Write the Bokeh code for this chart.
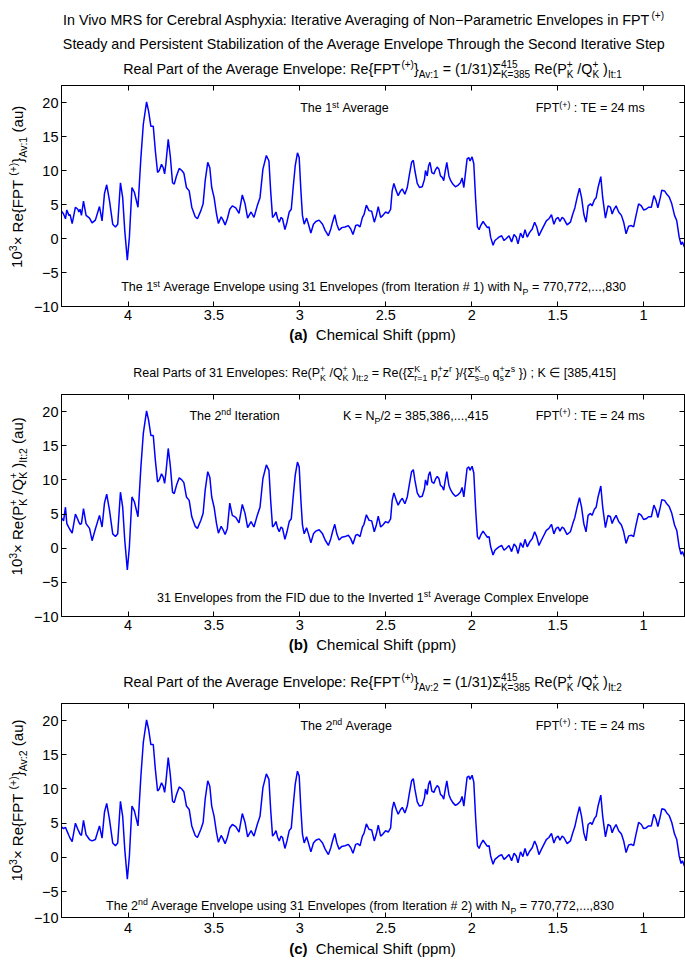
import math
from bokeh.plotting import figure
from bokeh.models import Label, Range1d, FixedTicker, LinearAxis, ColumnDataSource
from bokeh.layouts import column, row
from bokeh.embed import file_html
from bokeh.resources import INLINE

# ---------------- data ----------------
ppm = [4.389, 4.375, 4.364, 4.356, 4.344, 4.337, 4.325, 4.306, 4.292, 4.286,
       4.279, 4.271, 4.259, 4.244, 4.224, 4.209, 4.190, 4.166, 4.151, 4.137,
       4.124, 4.108, 4.089, 4.073, 4.060, 4.044, 4.031, 4.019, 4.004, 3.992,
       3.977, 3.963, 3.942, 3.925, 3.911, 3.892, 3.880, 3.867, 3.853, 3.841,
       3.828, 3.818, 3.805, 3.795, 3.787, 3.780, 3.766, 3.754, 3.741, 3.731,
       3.718, 3.702, 3.687, 3.675, 3.660, 3.644, 3.629, 3.609, 3.596, 3.576,
       3.563, 3.551, 3.536, 3.524, 3.513, 3.499, 3.485, 3.474, 3.458, 3.447,
       3.435, 3.422, 3.408, 3.393, 3.373, 3.354, 3.335, 3.319, 3.304, 3.284,
       3.267, 3.248, 3.232, 3.215, 3.195, 3.180, 3.170, 3.159, 3.149, 3.139,
       3.129, 3.120, 3.110, 3.101, 3.087, 3.075, 3.062, 3.050, 3.039, 3.027,
       3.014, 3.004, 2.994, 2.985, 2.975, 2.961, 2.950, 2.936, 2.921, 2.907,
       2.888, 2.868, 2.853, 2.834, 2.820, 2.810, 2.797, 2.785, 2.772, 2.756,
       2.737, 2.718, 2.704, 2.691, 2.675, 2.664, 2.650, 2.636, 2.627, 2.613,
       2.598, 2.582, 2.567, 2.555, 2.544, 2.530, 2.517, 2.501, 2.486, 2.472,
       2.463, 2.453, 2.439, 2.428, 2.414, 2.404, 2.389, 2.375, 2.362, 2.350,
       2.340, 2.331, 2.317, 2.304, 2.288, 2.275, 2.269, 2.259, 2.251, 2.243,
       2.232, 2.220, 2.211, 2.201, 2.191, 2.182, 2.172, 2.163, 2.157, 2.145,
       2.133, 2.124, 2.110, 2.095, 2.081, 2.066, 2.056, 2.046, 2.037, 2.027,
       2.017, 2.010, 1.998, 1.988, 1.977, 1.967, 1.957, 1.948, 1.934, 1.923,
       1.909, 1.899, 1.890, 1.876, 1.865, 1.851, 1.842, 1.826, 1.812, 1.799,
       1.783, 1.768, 1.754, 1.741, 1.731, 1.716, 1.702, 1.690, 1.677, 1.663,
       1.648, 1.634, 1.622, 1.609, 1.594, 1.580, 1.566, 1.551, 1.536, 1.522,
       1.509, 1.497, 1.487, 1.474, 1.464, 1.445, 1.426, 1.412, 1.400, 1.387,
       1.373, 1.361, 1.348, 1.335, 1.323, 1.309, 1.300, 1.286, 1.276, 1.265,
       1.249, 1.238, 1.222, 1.207, 1.193, 1.183, 1.174, 1.160, 1.145, 1.129,
       1.116, 1.102, 1.087, 1.071, 1.058, 1.044, 1.029, 1.013, 1.000, 0.986,
       0.971, 0.955, 0.940, 0.928, 0.917, 0.903, 0.894, 0.878, 0.865, 0.851,
       0.836, 0.820, 0.807, 0.793, 0.782, 0.774, 0.762]

# (a) Re{FPT(+)}_Av:1
re_av1 = [4.1, 3.6, 2.9, 4.2, 3.4, 3.5, 2.2, 4.6, 4.3, 3.9,
          4.3, 3.4, 5.5, 3.4, 3.0, 2.3, 2.7, 4.7, 2.6, 6.6,
          7.9, 5.6, 2.1, 1.7, 2.1, 8.2, 6.0, 1.2, -3.2, 0.2,
          7.5, 6.8, 4.6, 11.9, 16.8, 20.1, 18.7, 16.5, 16.5, 12.9,
          9.7, 10.0, 10.9, 10.4, 9.5, 10.9, 14.6, 12.1, 8.2, 8.0,
          9.2, 10.3, 10.0, 9.6, 7.5, 7.0, 4.6, 3.2, 2.9, 4.1,
          5.1, 8.5, 11.2, 10.4, 7.5, 6.0, 3.6, 2.2, 3.2, 2.7,
          2.0, 2.9, 4.3, 4.8, 4.5, 3.7, 6.4, 5.1, 3.0, 3.9,
          3.1, 4.8, 6.0, 10.2, 12.2, 11.4, 7.0, 3.1, 3.4, 3.9,
          2.9, 2.4, 3.1, 2.9, 1.3, 2.4, 3.9, 4.3, 7.5, 10.7,
          12.6, 11.9, 7.0, 3.4, 2.1, 3.0, 2.1, 0.8, 2.1, 2.5,
          2.7, 2.1, 1.2, 0.4, 1.4, 2.4, 3.5, 2.1, 1.2, 1.6,
          1.7, 1.9, 1.4, 0.6, 1.9, 2.0, 1.7, 3.1, 3.5, 4.9,
          4.1, 4.0, 2.4, 3.4, 4.7, 3.1, 3.4, 3.9, 3.7, 4.3,
          7.0, 8.1, 7.0, 6.3, 7.0, 7.3, 6.5, 7.5, 9.5, 11.2,
          11.5, 10.0, 8.1, 7.5, 7.6, 8.7, 10.0, 9.2, 10.7, 11.2,
          9.7, 9.5, 10.1, 10.5, 10.2, 9.2, 9.0, 8.5, 9.5, 11.2,
          9.2, 8.6, 8.0, 7.6, 7.8, 8.2, 8.9, 7.5, 9.5, 11.7,
          11.9, 11.4, 12.0, 11.0, 5.6, 1.7, 1.3, 1.9, 2.5, 2.1,
          1.6, 1.7, 0.2, -1.0, -0.3, 0.0, 0.2, 0.4, -0.3, 0.0,
          0.4, -0.5, 0.6, 0.2, -0.8, 0.8, 0.1, 1.3, 0.2, 0.9,
          1.4, 2.4, 1.7, 0.4, 1.2, 1.9, 2.6, 2.9, 3.5, 2.1,
          2.9, 3.1, 2.5, 3.1, 2.9, 2.0, 2.4, 3.6, 4.5, 6.0,
          7.4, 6.0, 3.6, 2.4, 4.8, 5.1, 4.8, 5.7, 6.0, 7.5,
          9.1, 6.0, 3.0, 4.8, 4.6, 3.6, 4.2, 4.8, 3.9, 3.4,
          2.4, 0.7, 1.8, 1.9, 1.7, 3.4, 5.1, 4.8, 4.2, 4.3,
          4.6, 4.6, 6.3, 5.6, 4.5, 6.0, 7.1, 7.0, 6.5, 6.1,
          5.1, 3.4, 2.6, 0.2, -0.9, -0.5, -1.3]

# (b) Re(P+/Q+)_It:2
re_it2 = [4.5, 4.0, 6.0, 3.6, 3.0, 2.7, 2.2, 5.0, 4.2, 3.8,
          3.5, 3.6, 5.8, 3.6, 2.9, 1.1, 2.8, 4.8, 3.1, 6.6,
          7.9, 5.6, 2.1, 1.7, 2.1, 8.2, 6.0, 1.2, -3.2, 0.2,
          7.5, 6.8, 4.6, 11.9, 16.8, 20.1, 18.7, 16.5, 16.5, 12.9,
          9.7, 10.0, 10.9, 10.4, 9.5, 10.9, 14.6, 12.1, 8.2, 8.0,
          9.2, 10.3, 10.0, 9.6, 7.5, 7.0, 4.6, 3.2, 2.9, 4.1,
          5.1, 8.5, 11.2, 10.4, 7.5, 6.0, 3.6, 2.2, 3.2, 2.7,
          2.0, 2.9, 6.6, 4.8, 4.5, 3.7, 6.4, 5.1, 3.0, 3.9,
          3.1, 4.8, 6.0, 10.2, 12.2, 11.4, 7.0, 3.1, 3.4, 3.9,
          2.9, 2.4, 3.1, 2.9, 1.3, 2.4, 3.9, 4.3, 7.5, 10.7,
          12.6, 11.9, 7.0, 3.4, 2.1, 3.0, 2.1, 0.8, 2.1, 2.5,
          2.7, 2.1, 1.2, 0.4, 1.4, 2.4, 3.5, 2.1, 1.2, 1.6,
          1.7, 1.9, 1.4, 0.6, 1.9, 2.0, 1.7, 3.1, 3.5, 4.9,
          4.1, 4.0, 2.4, 3.4, 4.7, 3.1, 3.4, 3.9, 3.7, 4.3,
          7.0, 8.1, 7.0, 6.3, 7.0, 7.3, 6.5, 7.5, 9.5, 11.2,
          11.5, 10.0, 8.1, 7.5, 7.6, 8.7, 10.0, 9.2, 10.7, 11.2,
          9.7, 9.5, 10.1, 10.5, 10.2, 9.2, 9.0, 8.5, 9.5, 11.2,
          9.2, 8.6, 8.0, 7.6, 7.8, 8.2, 8.9, 7.5, 9.5, 11.7,
          11.9, 11.4, 12.0, 11.0, 5.6, 1.7, 1.3, 1.9, 2.5, 2.1,
          1.6, 1.7, 0.2, -1.0, -0.3, 0.0, 0.2, 0.4, -0.3, 0.0,
          0.4, -0.5, 0.6, 0.2, -0.8, 0.8, 0.1, 1.3, 0.2, 0.9,
          1.4, 2.4, 1.7, 0.4, 1.2, 1.9, 2.6, 2.9, 3.5, 2.1,
          2.9, 3.1, 2.5, 3.1, 2.9, 2.0, 2.4, 3.6, 4.5, 6.0,
          7.4, 6.0, 3.6, 2.4, 4.8, 5.1, 4.8, 5.7, 6.0, 7.5,
          9.1, 6.0, 3.0, 4.8, 4.6, 3.6, 4.2, 4.8, 3.9, 3.4,
          2.4, 0.7, 1.8, 1.9, 1.7, 3.4, 5.1, 4.8, 4.2, 4.3,
          4.6, 4.6, 6.3, 5.6, 4.5, 6.0, 7.1, 7.0, 6.5, 6.1,
          5.1, 3.4, 2.6, 0.2, -0.9, -0.5, -1.3]

# (c) Re{FPT(+)}_Av:2
re_av2 = [4.5, 4.2, 4.4, 3.9, 3.2, 2.8, 2.3, 5.0, 4.1, 3.8,
          3.4, 3.2, 5.4, 3.3, 2.6, 2.4, 2.6, 4.6, 2.8, 6.6,
          7.9, 5.6, 2.1, 1.7, 2.1, 8.2, 6.0, 1.2, -3.2, 0.2,
          7.5, 6.8, 4.6, 11.9, 16.8, 20.1, 18.7, 16.5, 16.5, 12.9,
          9.7, 10.0, 10.9, 10.4, 9.5, 10.9, 14.6, 12.1, 8.2, 8.0,
          9.2, 10.3, 10.0, 9.6, 7.5, 7.0, 4.6, 3.2, 2.9, 4.1,
          5.1, 8.5, 11.2, 10.4, 7.5, 6.0, 3.6, 2.2, 3.2, 2.7,
          2.0, 2.9, 4.3, 4.8, 4.5, 3.7, 6.4, 5.1, 3.0, 3.9,
          3.1, 4.8, 6.0, 10.2, 12.2, 11.4, 7.0, 3.1, 3.4, 3.9,
          2.9, 2.4, 3.1, 2.9, 1.3, 2.4, 3.9, 4.3, 7.5, 10.7,
          12.6, 11.9, 7.0, 3.4, 2.1, 3.0, 2.1, 0.8, 2.1, 2.5,
          2.7, 2.1, 1.2, 0.4, 1.4, 2.4, 3.5, 2.1, 1.2, 1.6,
          1.7, 1.9, 1.4, 0.6, 1.9, 2.0, 1.7, 3.1, 3.5, 4.9,
          4.1, 4.0, 2.4, 3.4, 4.7, 3.1, 3.4, 3.9, 3.7, 4.3,
          7.0, 8.1, 7.0, 6.3, 7.0, 7.3, 6.5, 7.5, 9.5, 11.2,
          11.5, 10.0, 8.1, 7.5, 7.6, 8.7, 10.0, 9.2, 10.7, 11.2,
          9.7, 9.5, 10.1, 10.5, 10.2, 9.2, 9.0, 8.5, 9.5, 11.2,
          9.2, 8.6, 8.0, 7.6, 7.8, 8.2, 8.9, 7.5, 9.5, 11.7,
          11.9, 11.4, 12.0, 11.0, 5.6, 1.7, 1.3, 1.9, 2.5, 2.1,
          1.6, 1.7, 0.2, -1.0, -0.3, 0.0, 0.2, 0.4, -0.3, 0.0,
          0.4, -0.5, 0.6, 0.2, -0.8, 0.8, 0.1, 1.3, 0.2, 0.9,
          1.4, 2.4, 1.7, 0.4, 1.2, 1.9, 2.6, 2.9, 3.5, 2.1,
          2.9, 3.1, 2.5, 3.1, 2.9, 2.0, 2.4, 3.6, 4.5, 6.0,
          7.4, 6.0, 3.6, 2.4, 4.8, 5.1, 4.8, 5.7, 6.0, 7.5,
          9.1, 6.0, 3.0, 4.8, 4.6, 3.6, 4.2, 4.8, 3.9, 3.4,
          2.4, 0.7, 1.8, 1.9, 1.7, 3.4, 5.1, 4.8, 4.2, 4.3,
          4.6, 4.6, 6.3, 5.6, 4.5, 6.0, 7.1, 7.0, 6.5, 6.1,
          5.1, 3.4, 2.6, 0.2, -0.9, -0.5, -1.3]

x_ticks = [4, 3.5, 3, 2.5, 2, 1.5, 1]
x_tick_labels = ["4", "3.5", "3", "2.5", "2", "1.5", "1"]
y_ticks = [-10, -5, 0, 5, 10, 15, 20]
y_tick_labels = ["\u221210", "\u22125", "0", "5", "10", "15", "20"]
y_ticks_c = [-8.8, -5, 0, 5, 10, 15, 20]

X_LEFT, X_RIGHT, Y_TOP = 4.387, 0.762, 22.5

# ---------------- text helpers ----------------
FONT = "Liberation Sans"
SS = 0.7      # sub/superscript size factor
SUP = 0.40    # superscript raise (em)
SUB = 0.30    # subscript drop (em)
MID = 0.3465  # em-box middle above the alphabetic baseline

_w = {' ': 278, '!': 278, '"': 355, '#': 556, '%': 889, '&': 667, "'": 191, '(': 333, ')': 333,
      '*': 389, '+': 584, ',': 278, '-': 333, '.': 278, '/': 278, ':': 278, ';': 278, '<': 584,
      '=': 584, '>': 584, '?': 556, '[': 278, ']': 278, '{': 334, '|': 260, '}': 334,
      '\u2212': 584, '\u00d7': 584, '\u03a3': 600, '\u2208': 713}
for ch in "0123456789":
    _w[ch] = 556
for ch, v in zip("ABCDEFGHIJKLMNOPQRSTUVWXYZ",
                 [667, 667, 722, 722, 667, 611, 778, 722, 278, 500, 667, 556, 833, 722, 778, 667,
                  778, 722, 667, 611, 722, 667, 944, 667, 667, 611]):
    _w[ch] = v
for ch, v in zip("abcdefghijklmnopqrstuvwxyz",
                 [556, 556, 500, 556, 556, 278, 556, 556, 222, 222, 500, 222, 833, 556, 556, 556,
                  556, 333, 500, 278, 556, 500, 722, 500, 500, 500]):
    _w[ch] = v
_wb = {'(': 333, ')': 333, 'a': 556, 'b': 611, 'c': 556}


def tw(s, size, bold=False):
    tab = _wb if bold else _w
    return sum(tab.get(c, _w.get(c, 556)) for c in s) * size / 1000.0


def rich(p, x, y, segs, size, anchor="center", angle=0.0, ox=0.0, oy=0.0):
    """Draw a run of text pieces (normal / sub / sup / stacked) whose common
    alphabetic baseline passes through (x, y) + offset."""
    ca, sa = math.cos(angle), math.sin(angle)

    def seg_w(seg):
        t, k = seg
        if k == "n":
            return tw(t, size)
        if k == "b":
            return tw(t, size, True)
        if k in ("sup", "sub"):
            return tw(t, size * SS)
        return max(tw(t[0], size * SS), tw(t[1], size * SS))

    total = sum(seg_w(s) for s in segs)
    pos = -total / 2 if anchor == "center" else 0.0
    for seg in segs:
        t, k = seg
        if k in ("n", "b"):
            parts = [(t, size, 0.0, k == "b")]
        elif k == "sup":
            parts = [(t, size * SS, SUP * size, False)]
        elif k == "sub":
            parts = [(t, size * SS, -SUB * size, False)]
        else:
            parts = [(t[0], size * SS, SUP * size, False), (t[1], size * SS, -SUB * size, False)]
        for txt, fs, shift, b in parts:
            lead = len(txt) - len(txt.lstrip(' '))
            core = txt.strip(' ')
            if not core:
                continue
            adv = pos + tw(' ' * lead, fs)
            nrm = shift + MID * fs
            dx = adv * ca - nrm * sa
            dy = adv * sa + nrm * ca
            p.add_layout(Label(x=x, y=y, x_offset=ox + dx, y_offset=oy + dy, text=core,
                               angle=angle, text_font=FONT, text_font_size=f"{fs:.1f}px",
                               text_font_style="bold" if b else "normal",
                               text_align="left", text_baseline="middle",
                               text_color="black"))
        pos += seg_w(seg)


# ---------------- layout pieces ----------------
W = 685          # page width
YL_W = 30        # strip for the rotated y-axis label
PW = W - YL_W    # panel figure width
FRAME_L = 60 - YL_W
FRAME_CX = 60 + (684 - 60) / 2   # page x of the frame centre


def strip(w, h):
    s = figure(width=w, height=h, x_range=Range1d(0, w), y_range=Range1d(0, h),
               x_axis_location=None, y_axis_location=None, toolbar_location=None,
               output_backend="svg", min_border=0)
    s.outline_line_color = None
    s.grid.visible = False
    s.background_fill_color = "white"
    s.border_fill_color = "white"
    return s


def make_panel(frame_h, bottom, ybot, yt, ycol, xstand):
    p = figure(width=PW, height=frame_h + bottom, x_range=Range1d(X_LEFT, X_RIGHT),
               y_range=Range1d(ybot, Y_TOP), output_backend="svg", toolbar_location=None,
               min_border_left=FRAME_L, min_border_right=1, min_border_top=0,
               min_border_bottom=bottom)
    p.background_fill_color = "white"
    p.border_fill_color = "white"
    p.outline_line_color = "black"
    p.outline_line_width = 1
    p.xgrid.visible = False
    p.ygrid.visible = False
    xa, ya = p.xaxis[0], p.yaxis[0]
    xa.ticker = FixedTicker(ticks=x_ticks)
    xa.major_label_overrides = dict(zip(x_ticks, x_tick_labels))
    xa.major_label_standoff = xstand
    ya.ticker = FixedTicker(ticks=yt)
    ya.major_label_overrides = dict(zip(yt, y_tick_labels))
    ya.major_label_standoff = 3
    for ax in (xa, ya):
        ax.major_tick_in = 5
        ax.major_tick_out = 0
        ax.minor_tick_line_color = None
        ax.axis_line_color = "black"
        ax.major_tick_line_color = "black"
        ax.major_label_text_font = FONT
        ax.major_label_text_font_size = "14.5px"
        ax.major_label_text_color = "black"
    for loc, tk in (("above", x_ticks), ("right", yt)):
        ax = LinearAxis(ticker=FixedTicker(ticks=tk),
                        major_label_overrides={t: "" for t in tk},
                        major_label_text_font_size="0px", major_label_standoff=0,
                        major_tick_in=5, major_tick_out=0, minor_tick_line_color=None,
                        axis_line_color="black", major_tick_line_color="black")
        p.add_layout(ax, loc)
    src = ColumnDataSource(dict(ppm=ppm, val=ycol))
    p.line(x="ppm", y="val", source=src, line_color="#0000FF", line_width=1.5)
    return p


N, SUPK, SUBK = "n", "sup", "sub"
FPT_TE = [("FPT", N), ("(+)", SUPK), (" : TE = 24 ms", N)]
TS = 14.3   # title size
TSB = 12.5  # title size of panel (b)
IS = 12.5   # inner text size
LS = 15.0   # axis label size

# ================= panel (a) =================
topA = strip(W, 85)
rich(topA, 363, 61, [("In Vivo MRS for Cerebral Asphyxia: Iterative Averaging of Non\u2212Parametric Envelopes in FPT", N),
                     ("(+)", SUPK)], TS)
rich(topA, 364, 37, [("Steady and Persistent Stabilization of the Average Envelope Through the Second Iterative Step", N)], TS)
rich(topA, FRAME_CX, 12, [("Real Part of the Average Envelope: Re{FPT", N), ("(+)", SUPK), ("}", N), ("Av:1", SUBK),
                          (" = (1/31)\u03a3", N), (("415", "K=385"), "ss"), (" Re(P", N), (("+", "K"), "ss"),
                          (" /Q", N), (("+", "K"), "ss"), (" )", N), ("It:1", SUBK)], TS)

pA = make_panel(221, 20, -10, y_ticks, re_av1, 3)
rich(pA, 2.74, 18.5, [("The 1", N), ("st", SUPK), (" Average", N)], IS)
rich(pA, 1.31, 18.5, FPT_TE, IS)
rich(pA, 2.571, -7.8, [("The 1", N), ("st", SUPK),
                       (" Average Envelope using 31 Envelopes (from Iteration # 1) with N", N), ("P", SUBK),
                       (" = 770,772,...,830", N)], IS)

ylA = strip(YL_W, 241)
rich(ylA, 22, 241 - 110.5, [("10", N), ("3", SUPK), ("\u00d7 Re{FPT ", N), ("(+)", SUPK), ("}", N),
                            ("Av:1", SUBK), (" (au)", N)], LS, angle=math.pi / 2)

botA = strip(W, 24)
rich(botA, FRAME_CX, 11, [("(a)", "b"), ("  Chemical Shift (ppm)", N)], LS)

# ================= panel (b) =================
topB = strip(W, 44)
rich(topB, 373, 17, [("Real Parts of 31 Envelopes: Re(P", N), (("+", "K"), "ss"), (" /Q", N), (("+", "K"), "ss"),
                     (" )", N), ("It:2", SUBK), (" = Re({\u03a3", N), (("K", "r=1"), "ss"), (" p", N),
                     (("+", "r"), "ss"), ("z", N), ("r", SUPK), (" }/{\u03a3", N), (("K", "s=0"), "ss"),
                     (" q", N), (("+", "s"), "ss"), ("z", N), ("s", SUPK), (" }) ; K \u2208 [385,415]", N)], TSB)

pB = make_panel(222, 20, -10, y_ticks, re_it2, 3)
rich(pB, 3.38, 18.7, [("The 2", N), ("nd", SUPK), (" Iteration", N)], IS)
rich(pB, 2.326, 18.7, [("K = N", N), ("P", SUBK), ("/2 = 385,386,...,415", N)], IS)
rich(pB, 1.31, 18.7, FPT_TE, IS)
rich(pB, 2.5745, -7.9, [("31 Envelopes from the FID due to the Inverted 1", N), ("st", SUPK),
                        (" Average Complex Envelope", N)], IS)

ylB = strip(YL_W, 242)
rich(ylB, 22, 242 - 111, [("10", N), ("3", SUPK), ("\u00d7 Re(P", N), (("+", "K"), "ss"), (" /Q", N),
                          (("+", "K"), "ss"), (" )", N), ("It:2", SUBK), (" (au)", N)], LS, angle=math.pi / 2)

botB = strip(W, 24)
rich(botB, FRAME_CX, 11, [("(b)", "b"), ("  Chemical Shift (ppm)", N)], LS)

# ================= panel (c) =================
topC = strip(W, 43)
rich(topC, FRAME_CX, 17, [("Real Part of the Average Envelope: Re{FPT", N), ("(+)", SUPK), ("}", N), ("Av:2", SUBK),
                          (" = (1/31)\u03a3", N), (("415", "K=385"), "ss"), (" Re(P", N), (("+", "K"), "ss"),
                          (" /Q", N), (("+", "K"), "ss"), (" )", N), ("It:2", SUBK)], TS)

pC = make_panel(214, 22, -8.8, y_ticks_c, re_av2, 5)
rich(pC, 2.73, 18.6, [("The 2", N), ("nd", SUPK), (" Average", N)], IS)
rich(pC, 1.31, 18.6, FPT_TE, IS)
rich(pC, 2.65, -7.7, [("The 2", N), ("nd", SUPK),
                      (" Average Envelope using 31 Envelopes (from Iteration # 2) with N", N), ("P", SUBK),
                      (" = 770,772,...,830", N)], IS)

ylC = strip(YL_W, 236)
rich(ylC, 22, 236 - 107, [("10", N), ("3", SUPK), ("\u00d7 Re{FPT ", N), ("(+)", SUPK), ("}", N),
                          ("Av:2", SUBK), (" (au)", N)], LS, angle=math.pi / 2)

botC = strip(W, 23)
rich(botC, FRAME_CX, 9, [("(c)", "b"), ("  Chemical Shift (ppm)", N)], LS)

layout = column(topA, row(ylA, pA), botA,
                topB, row(ylB, pB), botB,
                topC, row(ylC, pC), botC)
open("out.html", "w").write(file_html(layout, INLINE))
